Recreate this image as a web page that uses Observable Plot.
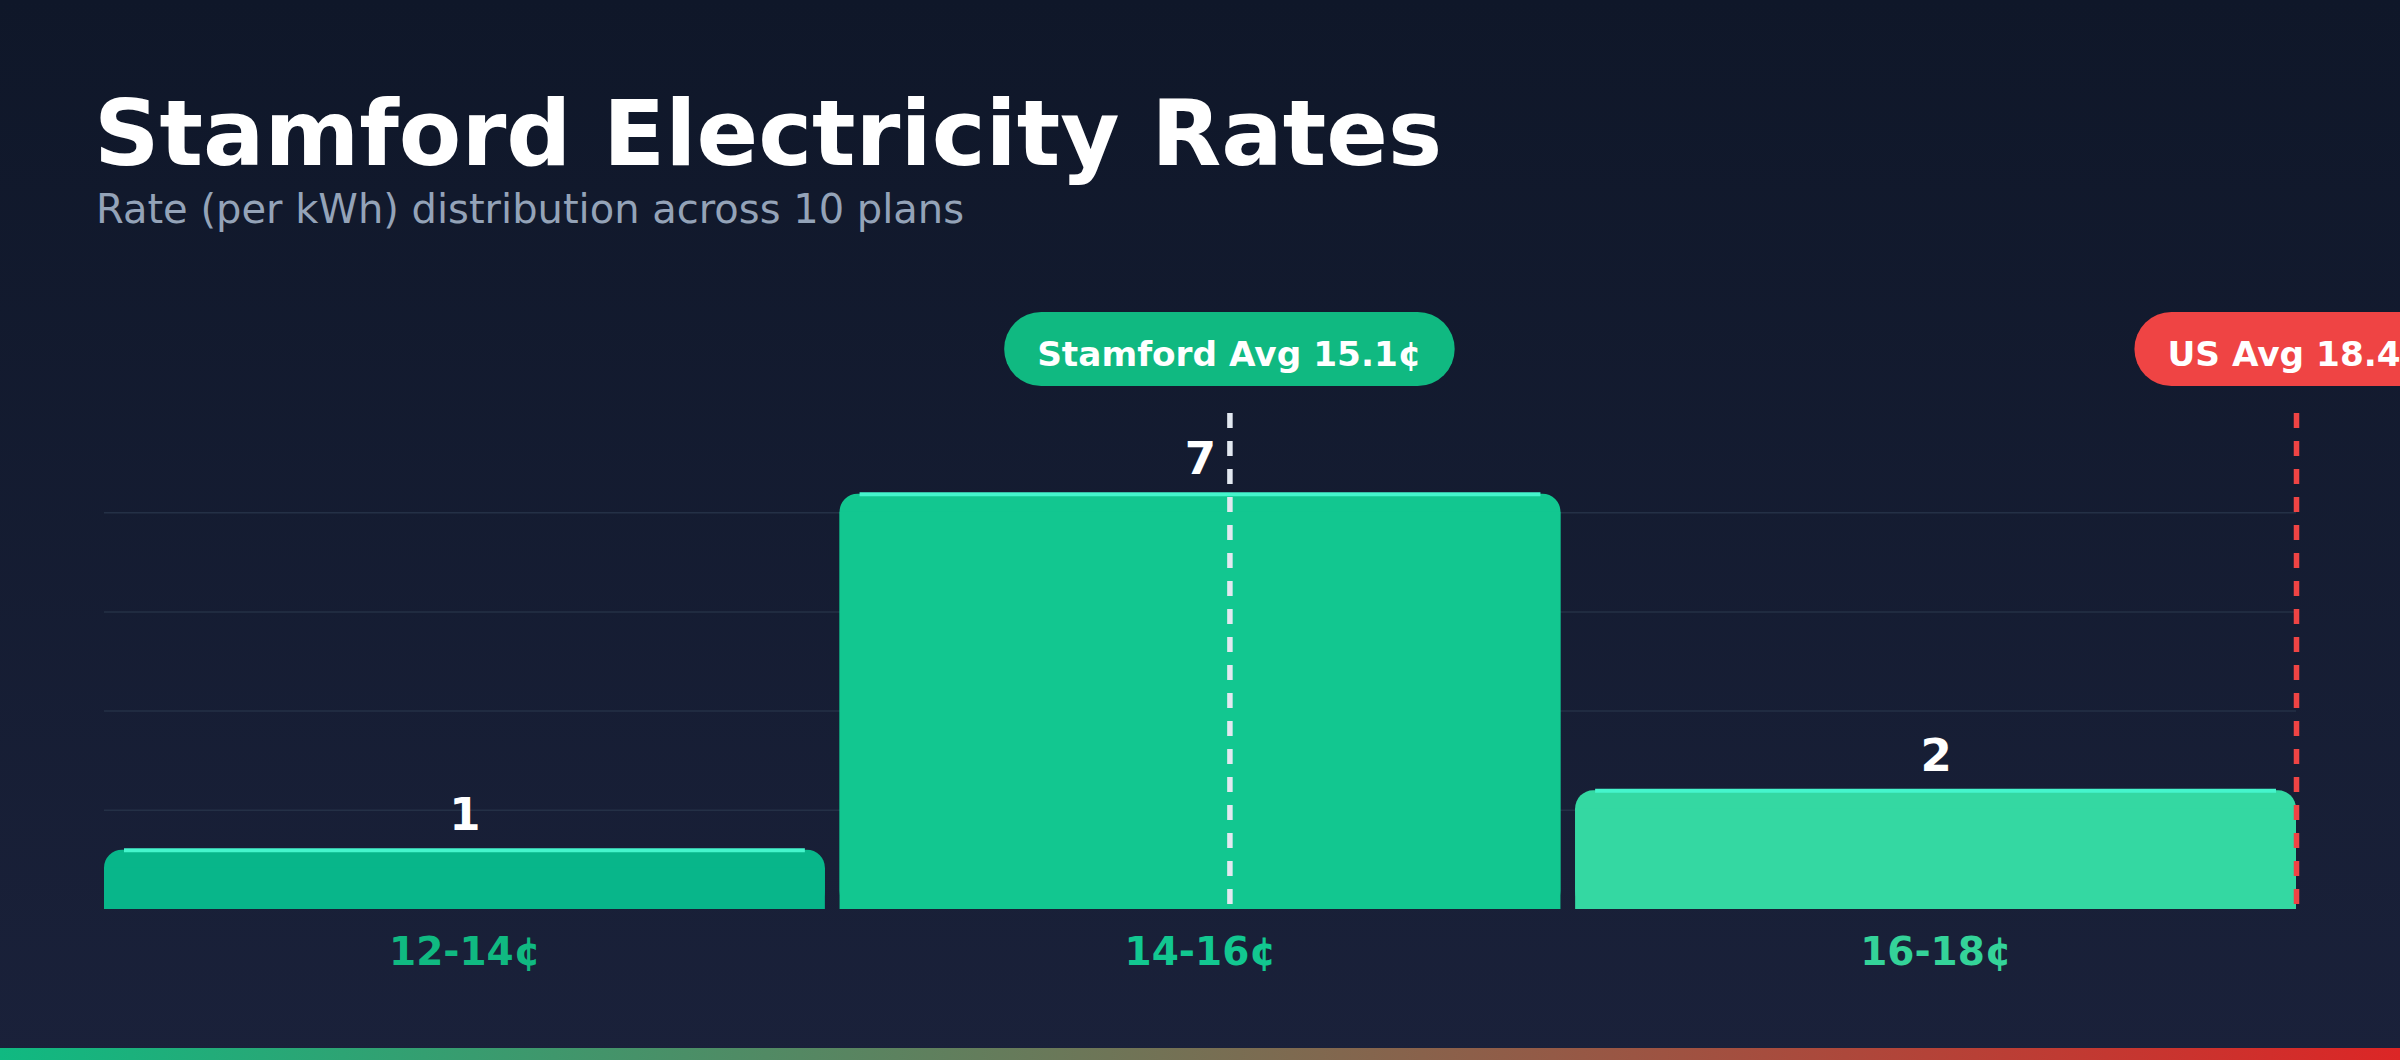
<!DOCTYPE html>
<html>
<head>
<meta charset="utf-8">
<script src="https://cdn.jsdelivr.net/npm/d3@7"></script>
<script src="https://cdn.jsdelivr.net/npm/@observablehq/plot@0.6"></script>
<style>
  html, body { margin: 0; padding: 0; }
  body { width: 2400px; height: 1060px; overflow: hidden; font-family: "DejaVu Sans", sans-serif; }
  #page { position: relative; width: 2400px; height: 1060px; overflow: hidden;
    background: linear-gradient(180deg, #0f1729 0%, #1a213a 100%); }
  #title { position: absolute; left: 94px; top: 88px; margin: 0; font-size: 91px; line-height: 1;
    font-weight: bold; color: #ffffff; white-space: nowrap; }
  #subtitle { position: absolute; left: 96px; top: 189px; margin: 0; font-size: 40px; line-height: 1;
    color: #94a3b8; white-space: nowrap; }
  #chart { position: absolute; left: 0; top: 260px; width: 2400px; }
  #stripe { position: absolute; left: 0; bottom: 0; width: 2400px; height: 12px;
    background: linear-gradient(90deg, #10b981 0%, #dc2626 100%); }
</style>
</head>
<body>
<div id="page">
  <div id="title">Stamford Electricity Rates</div>
  <div id="subtitle">Rate (per kWh) distribution across 10 plans</div>
  <div id="chart"></div>
  <div id="stripe"></div>
</div>
<script>
// ---- data ----
const binLow = [12, 14, 16];
const binHigh = [14, 16, 18];
const binLabels = ["12-14¢", "14-16¢", "16-18¢"];
const planCounts = [1, 7, 2];
const stamfordAvg = 15.08;
const usAvg = 18.4;
const avgNames = ["Stamford Avg", "US Avg"];
const xDomain = [12, 18];
const yMax = 8.36;

// ---- styles ----
const barFills = ["#08b68a", "#12c790", "#34d8a2"];
const labelFills = ["#10b981", "#12c790", "#34d399"];
const highlight = "#45f5cc";
const inset = 7.35;
const font = "DejaVu Sans";

const bins = binLabels.map((label, i) => ({label, lo: binLow[i], hi: binHigh[i], count: planCounts[i], i}));
const avgs = [
  {name: avgNames[0], value: stamfordAvg, fill: "#10b981", line: "#e2e8f0"},
  {name: avgNames[1], value: usAvg, fill: "#ef4444", line: "#ef4444"}
];
const gridTicks = d3.range(1, 5).map(k => k * yMax / 5);
const clampOffset = v => (v > xDomain[1] ? -inset : v < xDomain[0] ? inset : 0);

const measureCtx = document.createElement("canvas").getContext("2d");
const pillFont = 34.3, pillPad = 33, pillH = 74;
measureCtx.font = `bold ${pillFont}px "${font}"`;

function pills(index, scales, values, dimensions, context) {
  const doc = context && context.document ? context.document : document;
  const ns = "http://www.w3.org/2000/svg";
  const g = doc.createElementNS(ns, "g");
  const cy = dimensions.marginTop - 64;
  for (const a of avgs) {
    const txt = `${a.name} ${a.value.toFixed(1)}¢`;
    const w = measureCtx.measureText(txt).width + 2 * pillPad;
    const cx = scales.x(a.value) + clampOffset(a.value);
    const r = doc.createElementNS(ns, "rect");
    r.setAttribute("x", cx - w / 2);
    r.setAttribute("y", cy - pillH / 2);
    r.setAttribute("width", w);
    r.setAttribute("height", pillH);
    r.setAttribute("rx", pillH / 2);
    r.setAttribute("fill", a.fill);
    g.appendChild(r);
    const t = doc.createElementNS(ns, "text");
    t.setAttribute("x", cx);
    t.setAttribute("y", cy + 17);
    t.setAttribute("text-anchor", "middle");
    t.setAttribute("fill", "#ffffff");
    t.setAttribute("font-size", pillFont);
    t.setAttribute("font-weight", "bold");
    t.setAttribute("font-family", font);
    t.textContent = txt;
    g.appendChild(t);
  }
  return g;
}

const plot = Plot.plot({
  width: 2400,
  height: 720,
  marginTop: 153,
  marginBottom: 71,
  marginLeft: 96.65,
  marginRight: 96.65,
  style: {background: "transparent", fontFamily: font, overflow: "visible"},
  x: {domain: xDomain, clamp: true, axis: null},
  y: {domain: [0, yMax], axis: null},
  color: {type: "identity"},
  marks: [
    Plot.ruleY(gridTicks, {stroke: "#243046", strokeWidth: 1.5, insetLeft: inset, insetRight: inset}),
    Plot.rect(bins, {x1: "lo", x2: "hi", y1: 0, y2: "count", fill: d => barFills[d.i], rx: 18,
      insetLeft: inset, insetRight: inset}),
    Plot.rect(bins, {x1: "lo", x2: "hi", y1: 0, y2: "count", fill: d => barFills[d.i],
      insetLeft: inset, insetRight: inset, insetTop: 18}),
    Plot.ruleY(bins, {x1: "lo", x2: "hi", y: "count", stroke: highlight, strokeWidth: 4,
      insetLeft: inset + 20, insetRight: inset + 20}),
    Plot.text(bins, {x: d => (d.lo + d.hi) / 2, y: "count", text: d => String(d.count), dy: -20,
      lineAnchor: "bottom", fill: "#ffffff", fontSize: 45, fontWeight: "bold", fontFamily: font}),
    Plot.text(bins, {x: d => (d.lo + d.hi) / 2, y: 0, text: "label", dy: 55,
      lineAnchor: "bottom", fill: d => labelFills[d.i], fontSize: 39, fontWeight: "bold", fontFamily: font}),
    ...avgs.map(a => Plot.ruleX([a.value], {x: d => d, stroke: a.line, strokeWidth: 5.5,
      strokeDasharray: "15,13", dx: clampOffset(a.value)})),
    pills
  ]
});
document.getElementById("chart").appendChild(plot);
</script>
</body>
</html>
